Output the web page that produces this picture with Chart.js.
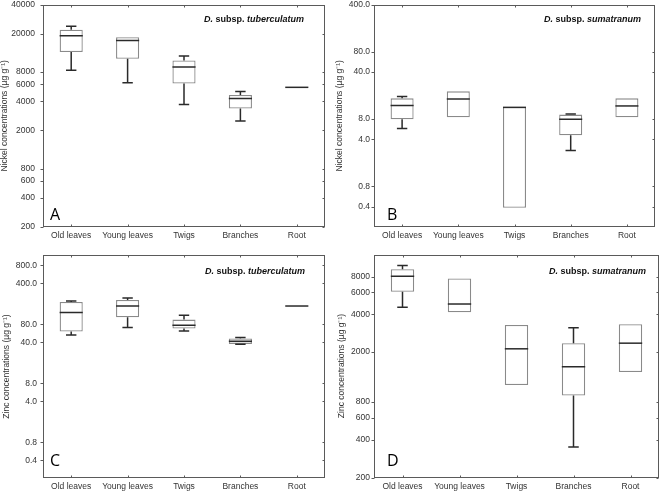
<!DOCTYPE html>
<html>
<head>
<meta charset="utf-8">
<script src="https://cdn.jsdelivr.net/npm/chart.js@4"></script>
<style>
html,body{margin:0;padding:0;background:#fff;}
#wrap{position:relative;width:660px;height:492px;overflow:hidden;background:#fff;}
.pane{position:absolute;}
</style>
</head>
<body>
<div id="wrap"></div>
<script>
// ---------- DATA ----------
const categories = ['Old leaves', 'Young leaves', 'Twigs', 'Branches', 'Root'];

// A: Nickel, D. subsp. tuberculatum
const niTubMin = [8340, 6220, 3690, 2500, 5565];
const niTubQ1  = [12900, 11010, 6080, 3356, 5565];
const niTubMed = [19000, 17000, 9015, 4256, 5565];
const niTubQ3  = [21900, 18390, 10570, 4635, 5565];
const niTubMax = [23900, 18390, 11710, 5025, 5565];
const niTubTicks = [200, 400, 600, 800, 2000, 4000, 6000, 8000, 20000, 40000];

// B: Nickel, D. subsp. sumatranum
const niSumMin = [5.78, 8.49, 0.386, 2.73, 8.49];
const niSumQ1  = [7.93, 8.49, 0.386, 4.6, 8.49];
const niSumMed = [12.66, 15.85, 11.9, 7.93, 12.5];
const niSumQ3  = [16.2, 20.6, 12.2, 9.3, 16.2];
const niSumMax = [17.2, 20.6, 12.2, 9.5, 16.2];
const niSumTicks = [0.4, 0.8, 4.0, 8.0, 40.0, 80.0, 400.0];

// C: Zinc, D. subsp. tuberculatum
const znTubMin = [53.1, 70.8, 62.1, 37.0, 164];
const znTubQ1  = [60.6, 106, 68.1, 37.4, 164];
const znTubMed = [127, 164, 77.5, 41.6, 164];
const znTubQ3  = [192, 207, 96.6, 46.1, 164];
const znTubMax = [199.6, 224, 114.3, 48.0, 164];
const znTubTicks = [0.4, 0.8, 4.0, 8.0, 40.0, 80.0, 400.0, 800.0];

// D: Zinc, D. subsp. sumatranum
const znSumMin = [4550, 4155, 1094, 350, 1388];
const znSumQ1  = [6055, 4155, 1094, 900, 1388];
const znSumMed = [8060, 4835, 2124, 1529, 2356];
const znSumQ3  = [9160, 7730, 3295, 2356, 3336];
const znSumMax = [9800, 7730, 3295, 3120, 3336];
const znSumTicks = [200, 400, 600, 800, 2000, 4000, 6000, 8000];

// ---------- PANELS ----------
const FONT = "'Liberation Sans', Arial, Helvetica, sans-serif";
const panels = [
  {letter:'A', yTitle:'Nickel concentrations (\u00b5g g\u207b\u00b9)', taxon:'tuberculatum',
   min:niTubMin, q1:niTubQ1, med:niTubMed, q3:niTubQ3, max:niTubMax, ticks:niTubTicks, dec:0,
   yMin:200, yMax:40000,
   box:{left:0, top:0, w:330, h:246}, area:{l:43, r:325, t:4.5, b:227}, titlePad:0, tickPad:8,
   ann:{dx:21, dy:15}, let:{dx:7, dy:7}},
  {letter:'B', yTitle:'Nickel concentrations (\u00b5g g\u207b\u00b9)', taxon:'sumatranum',
   min:niSumMin, q1:niSumQ1, med:niSumMed, q3:niSumQ3, max:niSumMax, ticks:niSumTicks, dec:1,
   yMin:0.2, yMax:400,
   box:{left:330, top:0, w:330, h:246}, area:{l:44, r:325, t:4.5, b:227}, titlePad:5, tickPad:4,
   ann:{dx:14, dy:15}, let:{dx:13, dy:7}},
  {letter:'C', yTitle:'Zinc concentrations (\u00b5g g\u207b\u00b9)', taxon:'tuberculatum',
   min:znTubMin, q1:znTubQ1, med:znTubMed, q3:znTubQ3, max:znTubMax, ticks:znTubTicks, dec:1,
   yMin:0.2, yMax:1200,
   box:{left:0, top:246, w:330, h:246}, area:{l:43, r:325, t:9, b:232}, titlePad:1.5, tickPad:6,
   ann:{dx:20, dy:17}, let:{dx:7, dy:12}},
  {letter:'D', yTitle:'Zinc concentrations (\u00b5g g\u207b\u00b9)', taxon:'sumatranum',
   min:znSumMin, q1:znSumQ1, med:znSumMed, q3:znSumQ3, max:znSumMax, ticks:znSumTicks, dec:0,
   yMin:200, yMax:12000,
   box:{left:330, top:246, w:330, h:246}, area:{l:44, r:329, t:8.5, b:231.5}, titlePad:6.5, tickPad:4,
   ann:{dx:13, dy:17}, let:{dx:13, dy:11.5}}
];

// ---------- PLUGINS ----------
const boxPlugin = {
  id:'boxWhiskers',
  afterDatasetsDraw(chart) {
    const p = chart.options.plugins.boxWhiskers.panel;
    const meta = chart.getDatasetMeta(0);
    const ys = chart.scales.y;
    const ctx = chart.ctx;
    ctx.save();
    ctx.strokeStyle = '#2a2a2a';
    ctx.lineWidth = 1.5;
    meta.data.forEach((bar, i) => {
      const x = bar.x;
      const hw = bar.width / 2;
      const cw = hw * 0.45;
      const yQ1 = ys.getPixelForValue(p.q1[i]);
      const yQ3 = ys.getPixelForValue(p.q3[i]);
      const yMn = ys.getPixelForValue(p.min[i]);
      const yMx = ys.getPixelForValue(p.max[i]);
      const yMd = ys.getPixelForValue(p.med[i]);
      ctx.beginPath();
      if (p.max[i] > p.q3[i]) {
        ctx.moveTo(x, yQ3); ctx.lineTo(x, yMx);
        ctx.moveTo(x - cw, yMx); ctx.lineTo(x + cw, yMx);
      }
      if (p.min[i] < p.q1[i]) {
        ctx.moveTo(x, yQ1); ctx.lineTo(x, yMn);
        ctx.moveTo(x - cw, yMn); ctx.lineTo(x + cw, yMn);
      }
      ctx.moveTo(x - hw, yMd); ctx.lineTo(x + hw, yMd);
      ctx.stroke();
    });
    ctx.restore();
  }
};

const framePlugin = {
  id:'frame',
  afterDraw(chart) {
    const p = chart.options.plugins.frame.panel;
    const a = chart.chartArea;
    const ctx = chart.ctx;
    const xs = chart.scales.x, ys = chart.scales.y;
    ctx.save();
    ctx.strokeStyle = '#5a5a5a';
    ctx.lineWidth = 1;
    const L = Math.round(a.left) + 0.5, R = Math.round(a.right) - 0.5;
    const T = Math.round(a.top) + 0.5, B = Math.round(a.bottom) - 0.5;
    ctx.strokeRect(L, T, R - L, B - T);
    ctx.beginPath();
    p.ticks.forEach(v => {
      const y = Math.round(ys.getPixelForValue(v)) + 0.5;
      ctx.moveTo(L - 3, y); ctx.lineTo(L, y);
      ctx.moveTo(R - 2, y); ctx.lineTo(R, y);
    });
    categories.forEach((c, i) => {
      const x = Math.round(xs.getPixelForValue(i)) + 0.5;
      ctx.moveTo(x, B); ctx.lineTo(x, B - 2);
      ctx.moveTo(x, T); ctx.lineTo(x, T + 2);
    });
    ctx.stroke();

    // taxon annotation
    const runs = [
      {t:'D.', f:'italic bold 9px ' + FONT},
      {t:' subsp. ', f:'bold 9px ' + FONT},
      {t:p.taxon, f:'italic bold 9px ' + FONT}
    ];
    let total = 0;
    runs.forEach(r => { ctx.font = r.f; r.w = ctx.measureText(r.t).width; total += r.w; });
    let x = a.right - p.ann.dx - total;
    const y = a.top + p.ann.dy;
    ctx.fillStyle = '#111';
    ctx.textBaseline = 'middle';
    ctx.textAlign = 'left';
    runs.forEach(r => { ctx.font = r.f; ctx.fillText(r.t, x, y); x += r.w; });

    // panel letter
    ctx.font = "16px 'Open Sans', 'Liberation Sans', sans-serif";
    ctx.textBaseline = 'alphabetic';
    ctx.fillStyle = '#000';
    ctx.fillText(p.letter, a.left + p.let.dx, a.bottom - p.let.dy);
    ctx.restore();
  }
};

// ---------- BUILD ----------
const wrap = document.getElementById('wrap');
panels.forEach(p => {
  const div = document.createElement('div');
  div.className = 'pane';
  div.style.left = p.box.left + 'px';
  div.style.top = p.box.top + 'px';
  div.style.width = p.box.w + 'px';
  div.style.height = p.box.h + 'px';
  const cv = document.createElement('canvas');
  cv.width = p.box.w; cv.height = p.box.h;
  cv.style.width = p.box.w + 'px'; cv.style.height = p.box.h + 'px';
  div.appendChild(cv);
  wrap.appendChild(div);

  const tickLabels = p.ticks.map(v => p.dec ? v.toFixed(p.dec) : String(v));

  new Chart(cv.getContext('2d'), {
    type:'bar',
    data:{
      labels:categories,
      datasets:[{
        data:p.q1.map((v, i) => [v, p.q3[i]]),
        backgroundColor:'#ffffff',
        borderColor:'#8a8a8a',
        borderWidth:1.3,
        borderSkipped:false,
        barPercentage:0.41,
        categoryPercentage:1.0
      }]
    },
    options:{
      responsive:false,
      animation:false,
      devicePixelRatio:1,
      layout:{padding:{left:0, top:p.area.t, right:p.box.w - p.area.r, bottom:0}},
      plugins:{
        legend:{display:false},
        tooltip:{enabled:false},
        boxWhiskers:{panel:p},
        frame:{panel:p}
      },
      scales:{
        x:{
          type:'category',
          grid:{display:false, drawTicks:false, tickLength:0},
          border:{display:false},
          ticks:{font:{family:FONT, size:8.5}, color:'#333', padding:4, maxRotation:0, autoSkip:false},
          afterFit(s){ s.height = p.box.h - p.area.b; s.paddingLeft = 0; s.paddingRight = 0; }
        },
        y:{
          type:'logarithmic',
          min:p.yMin, max:p.yMax,
          grid:{display:false, drawTicks:false, tickLength:0},
          border:{display:false},
          afterBuildTicks(s){ s.ticks = p.ticks.map(v => ({value:v})); },
          ticks:{
            font:{family:FONT, size:8.5}, color:'#333', padding:p.tickPad,
            autoSkip:false,
            callback:(v, i) => tickLabels[i]
          },
          title:{display:true, text:p.yTitle, color:'#333', font:{family:FONT, size:8.5}, padding:{top:p.titlePad, bottom:0}},
          afterFit(s){ s.width = p.area.l; s.paddingTop = 0; s.paddingBottom = 0; }
        }
      }
    },
    plugins:[boxPlugin, framePlugin]
  });
});
</script>
</body>
</html>
